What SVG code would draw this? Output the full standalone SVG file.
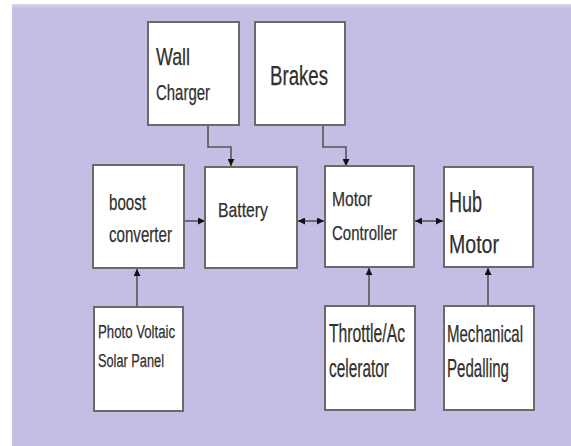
<svg xmlns="http://www.w3.org/2000/svg" width="571" height="446" viewBox="0 0 571 446">
<defs>
<linearGradient id="topfade" x1="0" y1="0" x2="0" y2="1">
<stop offset="0" stop-color="#d8d4e6"/>
<stop offset="1" stop-color="#c4bde4"/>
</linearGradient>
<marker id="ah" viewBox="0 0 8 8" refX="8" refY="4" markerWidth="7" markerHeight="7" markerUnits="userSpaceOnUse" orient="auto-start-reverse">
<path d="M0,0 L8,4 L0,8 z" fill="#111"/>
</marker>
</defs>
<style>
.box{fill:#ffffff;stroke:#6a6a6a;stroke-width:2}
.lbl{font-family:"Liberation Sans",Arial,sans-serif;fill:#303030;stroke:#303030;stroke-width:0.25}
.con{fill:none;stroke:#555;stroke-width:1.6}
</style>
<rect x="0" y="0" width="571" height="446" fill="#ffffff"/>
<rect x="12" y="4" width="559" height="442" fill="#c4bde4"/>
<rect x="12" y="4" width="559" height="5" fill="url(#topfade)"/>

<g id="connectors">
<path class="con" d="M208,125 V147 H231 V166" marker-end="url(#ah)"/>
<path class="con" d="M323,125 V147 H346 V166" marker-end="url(#ah)"/>
<path class="con" d="M184,221 H205" marker-end="url(#ah)"/>
<path class="con" d="M298,221 H324" marker-start="url(#ah)" marker-end="url(#ah)"/>
<path class="con" d="M415,221 H443" marker-start="url(#ah)" marker-end="url(#ah)"/>
<path class="con" d="M137,307 V269" marker-end="url(#ah)"/>
<path class="con" d="M369,306 V268" marker-end="url(#ah)"/>
<path class="con" d="M488,306 V268" marker-end="url(#ah)"/>
</g>

<g id="wall-charger">
<rect class="box" x="148" y="22" width="91" height="103"/>
<text class="lbl" x="156" y="65" font-size="24" textLength="34" lengthAdjust="spacingAndGlyphs">Wall</text>
<text class="lbl" x="156" y="100" font-size="22" textLength="54" lengthAdjust="spacingAndGlyphs">Charger</text>
</g>
<g id="brakes">
<rect class="box" x="255" y="22" width="90" height="103"/>
<text class="lbl" x="270" y="85" font-size="27" textLength="58" lengthAdjust="spacingAndGlyphs">Brakes</text>
</g>
<g id="boost-converter">
<rect class="box" x="93" y="165" width="91" height="103"/>
<text class="lbl" x="109" y="210" font-size="22" textLength="37" lengthAdjust="spacingAndGlyphs">boost</text>
<text class="lbl" x="109" y="242" font-size="22" textLength="63" lengthAdjust="spacingAndGlyphs">converter</text>
</g>
<g id="battery">
<rect class="box" x="205" y="167" width="92" height="101"/>
<text class="lbl" x="218" y="217" font-size="21" textLength="50" lengthAdjust="spacingAndGlyphs">Battery</text>
</g>
<g id="motor-controller">
<rect class="box" x="325" y="166" width="89" height="101"/>
<text class="lbl" x="332" y="206" font-size="20" textLength="40" lengthAdjust="spacingAndGlyphs">Motor</text>
<text class="lbl" x="332" y="240" font-size="21" textLength="65" lengthAdjust="spacingAndGlyphs">Controller</text>
</g>
<g id="hub-motor">
<rect class="box" x="444" y="167" width="89" height="100"/>
<text class="lbl" x="449" y="212" font-size="30" textLength="33" lengthAdjust="spacingAndGlyphs">Hub</text>
<text class="lbl" x="449" y="253" font-size="26" textLength="50" lengthAdjust="spacingAndGlyphs">Motor</text>
</g>
<g id="photo-voltaic">
<rect class="box" x="94" y="307" width="89" height="104"/>
<text class="lbl" x="98" y="338" font-size="18" textLength="77" lengthAdjust="spacingAndGlyphs">Photo Voltaic</text>
<text class="lbl" x="98" y="367" font-size="18" textLength="66" lengthAdjust="spacingAndGlyphs">Solar Panel</text>
</g>
<g id="throttle">
<rect class="box" x="325" y="306" width="90" height="104"/>
<text class="lbl" x="329" y="342" font-size="25" textLength="76" lengthAdjust="spacingAndGlyphs">Throttle/Ac</text>
<text class="lbl" x="329" y="377" font-size="25" textLength="60" lengthAdjust="spacingAndGlyphs">celerator</text>
</g>
<g id="mechanical-pedalling">
<rect class="box" x="444" y="306" width="90" height="104"/>
<text class="lbl" x="447" y="342" font-size="24" textLength="76" lengthAdjust="spacingAndGlyphs">Mechanical</text>
<text class="lbl" x="447" y="377" font-size="25" textLength="62" lengthAdjust="spacingAndGlyphs">Pedalling</text>
</g>
</svg>
